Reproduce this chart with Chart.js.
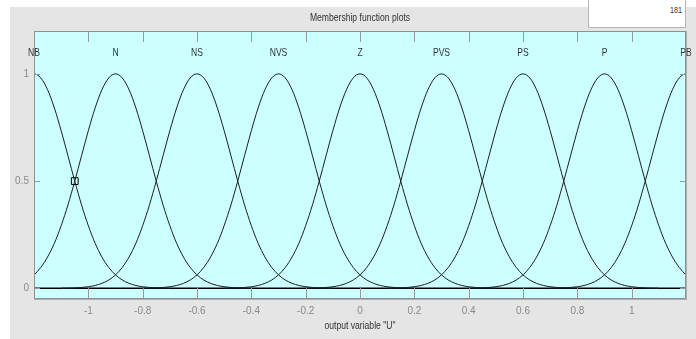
<!DOCTYPE html>
<html><head><meta charset="utf-8">
<script src="https://cdn.jsdelivr.net/npm/chart.js@4/dist/chart.umd.min.js"></script>
<style>
html,body{margin:0;padding:0;background:#fff;}
#wrap{position:relative;width:696px;height:339px;overflow:hidden;}
#panel{position:absolute;left:10px;top:7px;right:0;bottom:0;background:#e5e5e5;}
#c{position:absolute;left:0;top:0;}
#box{position:absolute;left:588px;top:0;width:96px;height:27px;background:#fff;border:1px solid #b4b4b4;border-top:none;font:9px 'Liberation Sans',sans-serif;color:#333;}
#box span{position:absolute;right:3px;top:5px;display:inline-block;transform:scaleX(0.8);transform-origin:right center;}
</style></head>
<body><div id="wrap"><div id="panel"></div><canvas id="c" width="696" height="339"></canvas><div id="box"><span>181</span></div></div>
<script>
const chartTitle = 'Membership function plots';
const xTitle = 'output variable "U"';
const mfNames = ['NB','N','NS','NVS','Z','PVS','PS','P','PB'];
const mfCenters = [-1.2,-0.9,-0.6,-0.3,0,0.3,0.6,0.9,1.2];
// shape of each membership curve (offset from centre -> degree)
const profileOffsets = [-0.5,-0.475,-0.45,-0.425,-0.4,-0.375,-0.35,-0.325,-0.3,-0.275,-0.25,-0.225,-0.2,-0.175,-0.15,-0.125,-0.1,-0.075,-0.05,-0.025,0,
  0.025,0.05,0.075,0.1,0.125,0.15,0.175,0.2,0.225,0.25,0.275,0.3,0.325,0.35,0.375,0.4,0.425,0.45,0.475,0.5];
const profileValues = [0.0005,0.001,0.002,0.0038,0.0072,0.0131,0.023,0.0386,0.0625,0.0973,0.146,0.21,0.292,0.389,0.5,0.618,0.735,0.841,0.926,0.981,1,
  0.981,0.926,0.841,0.735,0.618,0.5,0.389,0.292,0.21,0.146,0.0973,0.0625,0.0386,0.023,0.0131,0.0072,0.0038,0.002,0.001,0.0005];
const xTicks = [-1,-0.8,-0.6,-0.4,-0.2,0,0.2,0.4,0.6,0.8,1];
const yTicks = [0,0.5,1];
const markerX = [-1.05];
const markerY = [0.5];

const FONT = "'Liberation Sans',Arial,sans-serif";
const SQUEEZE = 0.78;

const datasets = mfCenters.map((c,i)=>({
  label: mfNames[i],
  data: profileOffsets.map((o,k)=>({x: c+o, y: profileValues[k]})),
  showLine: true, borderColor:'#1e1e1e', borderWidth:1, pointRadius:0,
  cubicInterpolationMode:'monotone', fill:false
}));
datasets.push({
  label:'marker', data: markerX.map((v,i)=>({x:v,y:markerY[i]})),
  showLine:false, pointStyle:'rect', pointRadius:4.8, pointBorderColor:'#000',
  pointBackgroundColor:'rgba(0,0,0,0)', pointBorderWidth:1
});

function ln(ctx,x1,y1,x2,y2){ctx.beginPath();ctx.moveTo(x1,y1);ctx.lineTo(x2,y2);ctx.stroke();}
function narrowText(ctx,text,x,y,size,color){
  ctx.save(); ctx.translate(x,y); ctx.scale(SQUEEZE,1);
  ctx.font = size+'px '+FONT; ctx.fillStyle=color;
  ctx.textAlign='center'; ctx.textBaseline='middle';
  ctx.fillText(text,0,0); ctx.restore();
}

const deco = {
  id:'deco',
  beforeDraw(chart){
    const {ctx, chartArea:a} = chart;
    ctx.save(); ctx.fillStyle='#ccffff';
    ctx.fillRect(a.left,a.top,a.right-a.left,a.bottom-a.top); ctx.restore();
  },
  beforeDatasetsDraw(chart){
    const {ctx, chartArea:a} = chart, y = chart.scales.y;
    const py = y.getPixelForValue(0);
    ctx.save(); ctx.strokeStyle='#000'; ctx.lineWidth=1.6;
    ln(ctx,a.left,py,a.right,py); ctx.restore();
  },
  afterDatasetsDraw(chart){
    const {ctx, chartArea:a} = chart, x = chart.scales.x, y = chart.scales.y;
    ctx.save();
    ctx.strokeStyle='#9a9a9a'; ctx.lineWidth=1;
    xTicks.forEach(v=>{
      const px = Math.round(x.getPixelForValue(v))+0.5;
      ln(ctx,px,a.bottom,px,a.bottom-11);
      ln(ctx,px,a.top,px,a.top+11);
    });
    yTicks.forEach(v=>{
      const py = Math.round(y.getPixelForValue(v))+0.5;
      ln(ctx,a.left,py,a.left+6,py);
      ln(ctx,a.right,py,a.right-6,py);
    });
    ctx.strokeStyle='#8f8f8f';
    ctx.strokeRect(a.left+0.5,a.top+0.5,a.right-a.left-1,a.bottom-a.top-1);
    ctx.strokeStyle='#b0b0b0';
    ln(ctx,a.right+0.5,a.top,a.right+0.5,a.bottom+1);
    ln(ctx,a.left,a.bottom+0.5,a.right+1,a.bottom+0.5);
    ctx.restore();
    mfCenters.forEach((c,i)=>{
      narrowText(ctx, mfNames[i], x.getPixelForValue(c), 53, 11, '#333');
    });
    const cx = (a.left+a.right)/2;
    narrowText(ctx, chartTitle, cx, 18, 11, '#333');
    narrowText(ctx, xTitle, cx, 326, 11, '#333');
  }
};

new Chart(document.getElementById('c'), {
  type:'scatter',
  data:{datasets},
  plugins:[deco],
  options:{
    responsive:false, animation:false, devicePixelRatio:1,
    layout:{padding:{left:10,right:10,top:31,bottom:0}},
    plugins:{ legend:{display:false}, tooltip:{enabled:false} },
    scales:{
      x:{type:'linear', min:-1.2, max:1.2,
        afterBuildTicks:s=>{s.ticks = xTicks.map(v=>({value:v}));},
        afterFit:s=>{s.height=40;},
        grid:{display:false, drawTicks:false},
        border:{display:false},
        ticks:{padding:6, color:'#8a8a8a', font:{family:FONT,size:10}, callback:v=>String(v), maxRotation:0, autoSkip:false}
      },
      y:{type:'linear', min:-0.05, max:1.2,
        afterBuildTicks:s=>{s.ticks = yTicks.map(v=>({value:v}));},
        afterFit:s=>{s.width=24;},
        grid:{display:false, drawTicks:false},
        border:{display:false},
        ticks:{padding:5, color:'#8a8a8a', font:{family:FONT,size:10}, callback:v=>String(v)}
      }
    }
  }
});
</script>
</body></html>
